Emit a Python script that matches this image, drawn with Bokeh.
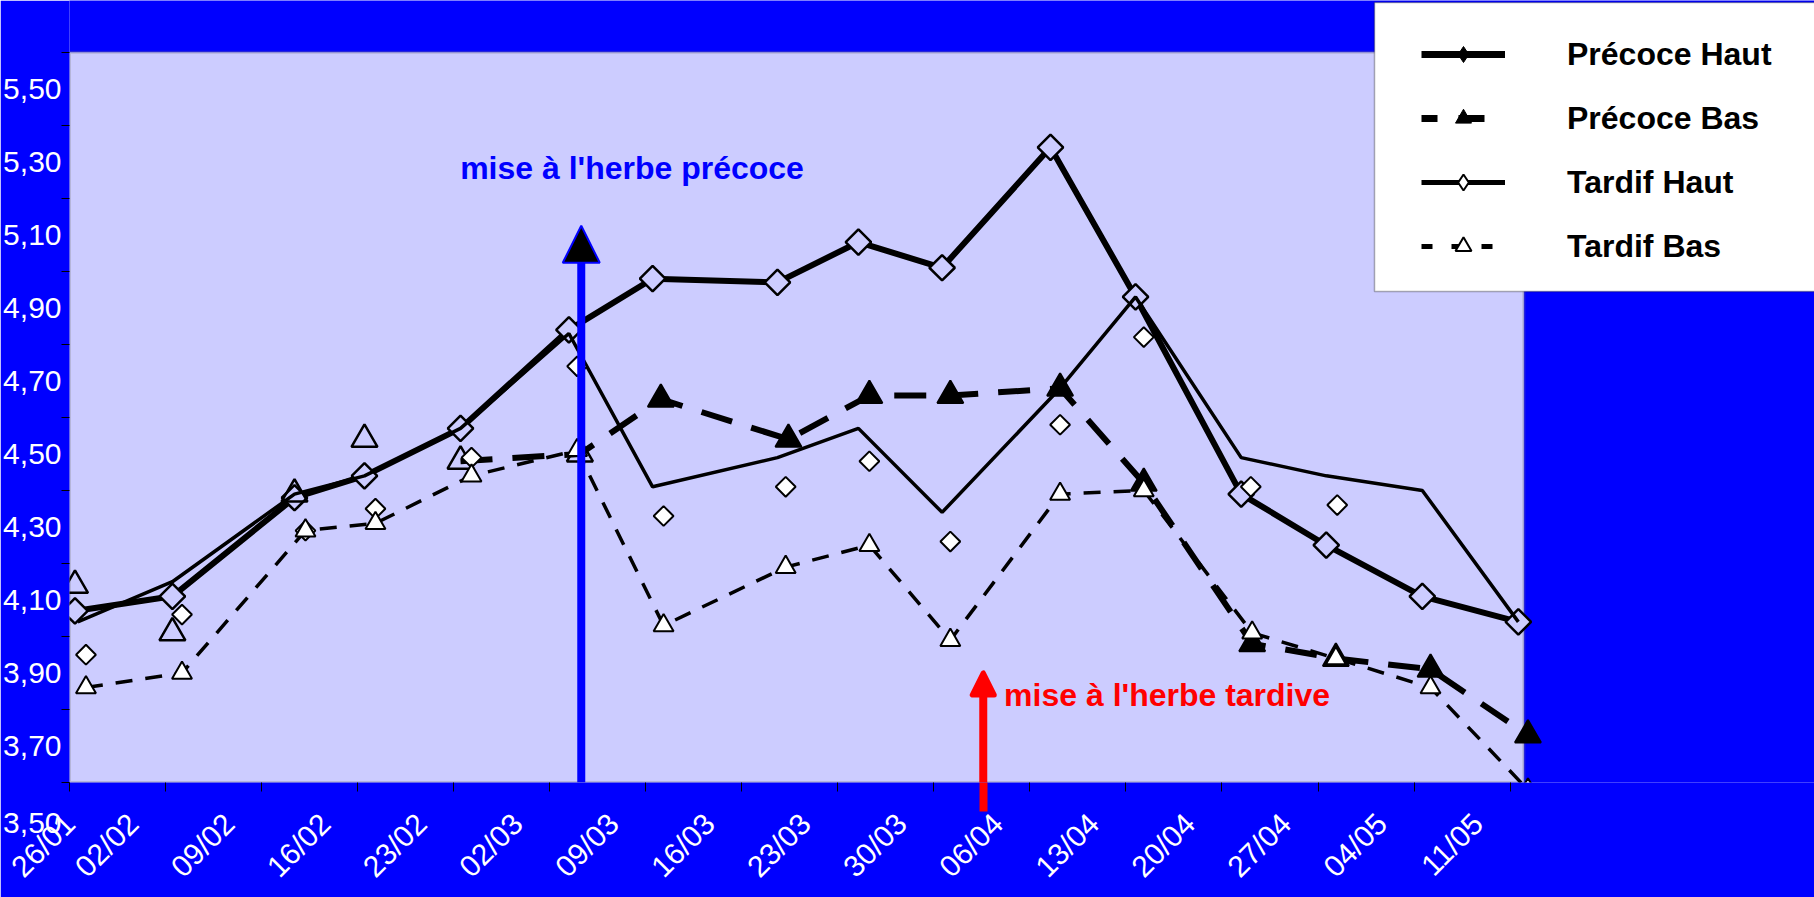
import math
from bokeh.plotting import figure
from bokeh.models import (Range1d, FixedTicker, Label, Arrow, NormalHead, Legend,
                          LegendItem, BoxAnnotation, LinearAxis)
from bokeh.embed import file_html
from bokeh.resources import INLINE

# ---------------- data ----------------
# x axis: days counted from 26/01 (weekly tick labels)
date_labels = ["26/01", "02/02", "09/02", "16/02", "23/02", "02/03", "09/03", "16/03",
               "23/03", "30/03", "06/04", "13/04", "20/04", "27/04", "04/05", "11/05"]
y_labels = ["3,50", "3,70", "3,90", "4,10", "4,30", "4,50", "4,70", "4,90", "5,10", "5,30", "5,50"]
y_label_vals = [3.5, 3.7, 3.9, 4.1, 4.3, 4.5, 4.7, 4.9, 5.1, 5.3, 5.5]
y_tick_vals = [3.6, 3.8, 4.0, 4.2, 4.4, 4.6, 4.8, 5.0, 5.2, 5.4, 5.6]

# Précoce Haut (thick solid line + large diamonds)
ph_day = [0.4, 7.5, 16.4, 21.5, 28.5, 36.4, 42.5, 51.6, 57.5, 63.6, 71.5, 77.7, 85.4, 91.6, 98.6, 105.6]
ph_val = [4.07, 4.11, 4.38, 4.44, 4.57, 4.84, 4.98, 4.97, 5.08, 5.01, 5.34, 4.93, 4.39, 4.25, 4.11, 4.04]

# Précoce Bas (thick dashed line + large triangles)
pb_day = [0.4, 7.5, 16.4, 21.5, 28.5, 37.2, 43.1, 52.4, 58.3, 64.2, 72.2, 78.3, 86.2, 92.3, 99.2, 106.3]
pb_val = [4.14, 4.01, 4.39, 4.54, 4.48, 4.50, 4.65, 4.54, 4.66, 4.66, 4.68, 4.42, 3.98, 3.94, 3.91, 3.73]
pb_line_from = 4      # dashed line drawn from 02/03 on
pb_open_count = 6     # first triangles drawn hollow

# Tardif Haut (thin solid line + small diamonds)
thl_day = [0.6, 7.5, 16.4, 21.5, 28.5, 36.4, 42.5, 51.6, 57.5, 63.6, 72.2, 77.7, 85.4, 91.6, 98.6, 105.6]
thl_val = [4.04, 4.15, 4.39, 4.44, 4.57, 4.83, 4.41, 4.49, 4.57, 4.34, 4.68, 4.93, 4.49, 4.44, 4.40, 4.04]
thm_day = [1.2, 8.2, 17.2, 22.3, 29.3, 37.0, 43.3, 52.2, 58.3, 64.2, 72.2, 78.3, 86.1, 92.4]
thm_val = [3.95, 4.06, 4.29, 4.35, 4.49, 4.74, 4.33, 4.41, 4.48, 4.26, 4.58, 4.82, 4.41, 4.36]

# Tardif Bas (thin dashed line + small triangles)
tb_day = [1.2, 8.2, 17.2, 22.3, 29.3, 37.0, 43.3, 52.2, 58.3, 64.2, 72.2, 78.3, 86.2, 92.3, 99.2, 106.3]
tb_val = [3.86, 3.90, 4.29, 4.31, 4.44, 4.51, 4.03, 4.19, 4.25, 3.99, 4.39, 4.40, 4.01, 3.94, 3.86, 3.58]

# plot area (days / values) and annotations
area = dict(x0=0, x1=106, y0=3.6, y1=5.6)
blue_arrow = dict(x=37.3, y0=3.6, y1=5.125)
red_arrow = dict(x=66.6, y0=3.6, y1=3.90)
blue_text = dict(x=41.0, y=5.283, text="mise à l'herbe précoce")
red_text = dict(x=80.0, y=3.840, text="mise à l'herbe tardive")

FONT = "Liberation Sans"
BLUE = "#0000FF"
LAV = "#CCCCFF"

W, H = 1814, 897
LEFT, BOTTOM = 67, 113              # frame: x 67..1814, y 0..784
PX_DAY = 1456 / 106                 # plot area 1456 px wide for 106 days
PX_VAL = 732 / 2.0                  # plot area 732 px tall for 2.0 units
x_end = (W - LEFT) / PX_DAY
y_end = 3.6 + (H - BOTTOM) / PX_VAL

# ---------------- figure ----------------
p = figure(width=W, height=H, output_backend="svg", toolbar_location=None,
           x_range=Range1d(0, x_end), y_range=Range1d(3.6, y_end), x_axis_location=None,
           min_border_left=LEFT, min_border_right=0, min_border_top=0, min_border_bottom=BOTTOM,
           background_fill_color=BLUE, border_fill_color=BLUE)
p.xgrid.visible = False
p.ygrid.visible = False
p.outline_line_alpha = 0

# lavender plot area with grey border
p.add_layout(BoxAnnotation(left=area["x0"], right=area["x1"], bottom=area["y0"], top=area["y1"],
                           fill_color=LAV, fill_alpha=1, line_color="#808080", line_width=3,
                           level="underlay"))

# x axis part 1: weekly tick marks + tail of the red arrow below the axis
week_days = [7 * i for i in range(len(date_labels))]
tick_axis = LinearAxis(ticker=FixedTicker(ticks=[red_arrow["x"]], minor_ticks=week_days),
                       major_label_overrides={red_arrow["x"]: ""},
                       major_label_text_font_size="0px", major_label_standoff=0,
                       major_tick_out=29, major_tick_in=0, major_tick_line_color="red",
                       major_tick_line_width=8,
                       minor_tick_out=9, minor_tick_in=0, minor_tick_line_color="black",
                       minor_tick_line_width=1, axis_line_alpha=0)
p.add_layout(tick_axis, "below")

# x axis part 2: rotated date labels
label_shift = 2.36
x_label_pos = [d - label_shift if d > 0 else d for d in week_days]
label_axis = LinearAxis(ticker=FixedTicker(ticks=x_label_pos, minor_ticks=[]),
                        major_label_overrides={pos: lab for pos, lab in zip(x_label_pos, date_labels)},
                        major_label_orientation=math.pi / 4, major_label_standoff=7,
                        major_tick_out=0, major_tick_in=0, minor_tick_out=0, minor_tick_in=0,
                        axis_line_alpha=0, major_label_text_color="white",
                        major_label_text_font=FONT, major_label_text_font_size="30px")
p.add_layout(label_axis, "below")

# y axis: labels between the tick marks; 3,50 falls below the axis
y_major = [area["y0"]] + y_label_vals[1:]
y_over = {v: t for v, t in zip(y_label_vals[1:], y_labels[1:])}
y_over[area["y0"]] = "\n\n" + y_labels[0]
p.yaxis.ticker = FixedTicker(ticks=y_major, minor_ticks=y_tick_vals)
p.yaxis.major_label_overrides = y_over
p.yaxis.major_tick_out = 0
p.yaxis.major_tick_in = 0
p.yaxis.minor_tick_out = 8
p.yaxis.minor_tick_in = 0
p.yaxis.major_label_standoff = 0
p.yaxis.major_label_text_font_size = "30px"
p.yaxis.axis_line_alpha = 0
p.yaxis.minor_tick_line_color = "black"
p.yaxis.major_label_text_color = "white"
p.yaxis.major_label_text_font = FONT

# ---------------- series ----------------
p.line(ph_day, ph_val, line_color="black", line_width=6, line_join="round")
p.scatter(ph_day, ph_val, marker="square", angle=math.pi / 4, size=18,
          fill_color=LAV, line_color="black", line_width=2.5)

p.line(pb_day[pb_line_from:], pb_val[pb_line_from:], line_color="black", line_width=6,
       line_dash="32 20")
p.scatter(pb_day[:pb_open_count], pb_val[:pb_open_count], marker="triangle", size=26,
          fill_alpha=0, line_color="black", line_width=2.5)
p.scatter(pb_day[pb_open_count:], pb_val[pb_open_count:], marker="triangle", size=26,
          fill_color="black", line_color="black", line_width=2)

p.line(thl_day, thl_val, line_color="black", line_width=3.5)
p.scatter(thm_day, thm_val, marker="square", angle=math.pi / 4, size=14,
          fill_color="white", line_color="black", line_width=2)

p.line(tb_day, tb_val, line_color="black", line_width=3.5, line_dash="17 13")
p.scatter(tb_day, tb_val, marker="triangle", size=20, fill_color="white",
          line_color="black", line_width=2)

# ---------------- annotations ----------------
p.add_layout(Arrow(end=NormalHead(size=37, fill_color="black", line_color=BLUE, line_width=2),
                   x_start=blue_arrow["x"], y_start=blue_arrow["y0"],
                   x_end=blue_arrow["x"], y_end=blue_arrow["y1"],
                   line_color=BLUE, line_width=8))
p.add_layout(Arrow(end=NormalHead(size=22, fill_color="red", line_color="red", line_width=5,
                                  line_join="round"),
                   x_start=red_arrow["x"], y_start=red_arrow["y0"],
                   x_end=red_arrow["x"], y_end=red_arrow["y1"],
                   line_color="red", line_width=8))

p.add_layout(Label(x=blue_text["x"], y=blue_text["y"], text=blue_text["text"],
                   text_align="center", text_baseline="middle", text_color=BLUE,
                   text_font=FONT, text_font_size="32px", text_font_style="bold"))
p.add_layout(Label(x=red_text["x"], y=red_text["y"], text=red_text["text"],
                   text_align="center", text_baseline="middle", text_color="red",
                   text_font=FONT, text_font_size="32px", text_font_style="bold"))

# ---------------- legend ----------------
nan = float("nan")
lg1 = p.line([nan], [nan], line_color="black", line_width=7)
lm1 = p.scatter([nan], [nan], marker="diamond", size=19, fill_color="black", line_color="black")
lg2 = p.line([nan], [nan], line_color="black", line_width=7, line_dash="16 21 26 30")
lm2 = p.scatter([nan], [nan], marker="triangle", size=19, fill_color="black", line_color="black")
lg3 = p.line([nan], [nan], line_color="black", line_width=5)
lm3 = p.scatter([nan], [nan], marker="diamond", size=18, fill_color="white",
                line_color="black", line_width=2)
lg4 = p.line([nan], [nan], line_color="black", line_width=5, line_dash="11 19")
lm4 = p.scatter([nan], [nan], marker="triangle", size=19, fill_color="white",
                line_color="black", line_width=2)

# white legend box (frame-relative screen units)
p.add_layout(BoxAnnotation(left=1372 - LEFT, right=W, top=(H - BOTTOM) - 4,
                           bottom=(H - BOTTOM) - 293,
                           left_units="screen", right_units="screen", top_units="screen",
                           bottom_units="screen", fill_color="white", fill_alpha=1,
                           line_color="black", line_width=1.5, level="overlay"))

legend = Legend(items=[LegendItem(label="Précoce Haut", renderers=[lg1, lm1]),
                       LegendItem(label="Précoce Bas", renderers=[lg2, lm2]),
                       LegendItem(label="Tardif Haut", renderers=[lg3, lm3]),
                       LegendItem(label="Tardif Bas", renderers=[lg4, lm4])],
                location=(1419 - LEFT, (H - BOTTOM) - 268), orientation="vertical",
                padding=0, margin=0, spacing=24, glyph_width=84, glyph_height=40,
                label_height=40, label_standoff=62, label_text_font=FONT,
                label_text_font_size="32px", label_text_font_style="bold",
                label_text_color="black", background_fill_alpha=0, border_line_alpha=0,
                level="overlay")
p.add_layout(legend, "center")

html = file_html(p, INLINE)
html = html.replace("<body>", '<body style="background-color:#0000FF;">', 1)
open("out.html", "w").write(html)
